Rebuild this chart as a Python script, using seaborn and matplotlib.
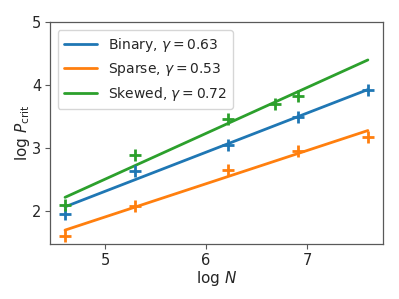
import numpy as np
import pandas as pd
import matplotlib
matplotlib.use("Agg")
import matplotlib.pyplot as plt
import seaborn as sns

# measured points, x = log N
log_n = [4.605, 5.298, 6.215, 6.908, 7.601]
binary_pts = [1.95, 2.64, 3.05, 3.50, 3.92]
sparse_pts = [1.61, 2.08, 2.65, 2.95, 3.18]
skewed_x = [4.605, 5.298, 6.215, 6.685, 6.908]
skewed_pts = [2.10, 2.89, 3.47, 3.70, 3.82]

# fitted lines (value at both ends of the N range)
fit_x = [4.605, 7.601]
binary_fit = [2.07, 3.93]
sparse_fit = [1.70, 3.28]
skewed_fit = [2.22, 4.40]

names = ["Binary", "Sparse", "Skewed"]
gammas = [0.63, 0.53, 0.72]

sns.set_style("white")
plt.rcParams["font.family"] = ["DejaVu Sans"]
plt.rcParams["mathtext.fontset"] = "dejavusans"

fig, ax = plt.subplots(figsize=(3.99, 2.99), dpi=100)
fig.subplots_adjust(left=0.125, right=0.96, top=0.926, bottom=0.184)

colors = sns.color_palette("tab10", 3)
series = [
    (log_n, binary_pts, binary_fit),
    (log_n, sparse_pts, sparse_fit),
    (skewed_x, skewed_pts, skewed_fit),
]

for (xs, ys, fit), name, g, c in zip(series, names, gammas, colors):
    sns.lineplot(x=fit_x, y=fit, color=c, lw=2, ax=ax,
                 label=rf"{name}, $\gamma = {g:.2f}$")
    sns.scatterplot(x=xs, y=ys, color=c, marker="+", s=70, linewidth=2,
                    ax=ax, legend=False, zorder=3)

ax.set_xlim(4.455, 7.751)
ax.set_ylim(1.48, 5)
ax.set_xticks([5, 6, 7])
ax.set_yticks([2, 3, 4, 5])
ax.tick_params(labelsize=10.5, length=3.5, width=0.8, pad=2.8, color="0.35",
               left=True, bottom=True)
for s in ax.spines.values():
    s.set_color("0.35")
    s.set_linewidth(0.9)

ax.set_xlabel(r"log $N$", fontsize=11, labelpad=1)
ax.set_ylabel(r"log $P_{\rm crit}$", fontsize=11, labelpad=0)
ax.legend(loc="upper left", fontsize=10, handlelength=2.4, borderpad=0.45,
          borderaxespad=0.55)

plt.savefig("out.png", dpi=100)
